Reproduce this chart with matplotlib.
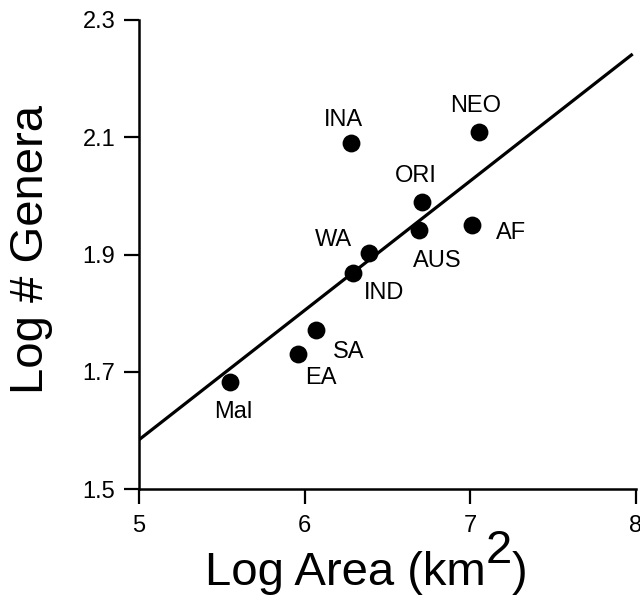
import matplotlib
matplotlib.use("Agg")
import matplotlib.pyplot as plt

plt.rcParams['font.family'] = ['Liberation Sans', 'DejaVu Sans']

# Data
regions = ["Mal", "EA", "SA", "IND", "WA", "AUS", "ORI", "AF", "NEO", "INA"]
log_area = [5.55, 5.96, 6.07, 6.29, 6.39, 6.69, 6.71, 7.01, 7.05, 6.28]
log_genera = [1.683, 1.731, 1.772, 1.869, 1.903, 1.941, 1.989, 1.950, 2.109, 2.091]
# label offsets in pixels (dx right, dy down) relative to each point
label_dx = [3, 23, 32, 31, -36, 18, -6, 39, -3, -8]
label_dy = [30, 24, 22, 20, -13, 31, -26, 8, -26, -23]

fit_x = [5.0, 7.98]
fit_y = [1.584, 2.242]

xticks = [5, 6, 7, 8]
yticks = [1.5, 1.7, 1.9, 2.1, 2.3]

W, H, DPI = 640, 609, 100
fig = plt.figure(figsize=(W / DPI, H / DPI), dpi=DPI)
ax = fig.add_axes([139 / W, 1 - 489 / H, (636 - 139) / W, (489 - 20) / H])

ax.plot(fit_x, fit_y, color='black', lw=2.3, solid_capstyle='butt', zorder=2)
ax.scatter(log_area, log_genera, s=165, color='black', zorder=3, linewidths=0)

px2pt = 72 / DPI
for name, x, y, dx, dy in zip(regions, log_area, log_genera, label_dx, label_dy):
    ax.annotate(name, xy=(x, y), xytext=(dx * px2pt, -dy * px2pt),
                textcoords='offset points', ha='center', va='center',
                fontsize=17, color='black')

ax.set_xlim(5, 8)
ax.set_ylim(1.5, 2.3)
ax.set_xticks(xticks)
ax.set_xticklabels([str(v) for v in xticks])
ax.set_yticks(yticks)
ax.set_yticklabels([f"{v:.1f}" for v in yticks])

for s in ['top', 'right']:
    ax.spines[s].set_visible(False)
for s in ['left', 'bottom']:
    ax.spines[s].set_linewidth(1.8)
ax.tick_params(direction='out', length=11, width=1.6, labelsize=17)
ax.tick_params(axis='x', pad=8)
ax.tick_params(axis='y', pad=6)

# y label
fig.text(31 / W, 1 - 250 / H, "Log # Genera", rotation=90, ha='center', va='center',
         fontsize=34)

# x label with full-size raised superscript
t1 = fig.text(205 / W, 1 - 585 / H, "Log Area (km", ha='left', va='baseline', fontsize=34)
ax.annotate("2", xy=(1, 0), xycoords=t1, xytext=(0, 16), textcoords='offset points',
            ha='left', va='bottom', fontsize=34, annotation_clip=False)
ax.annotate(")", xy=(1, 0), xycoords=t1, xytext=(18.9, 0), textcoords='offset points',
            ha='left', va='bottom', fontsize=34, annotation_clip=False)

fig.savefig("out.png", dpi=DPI)
